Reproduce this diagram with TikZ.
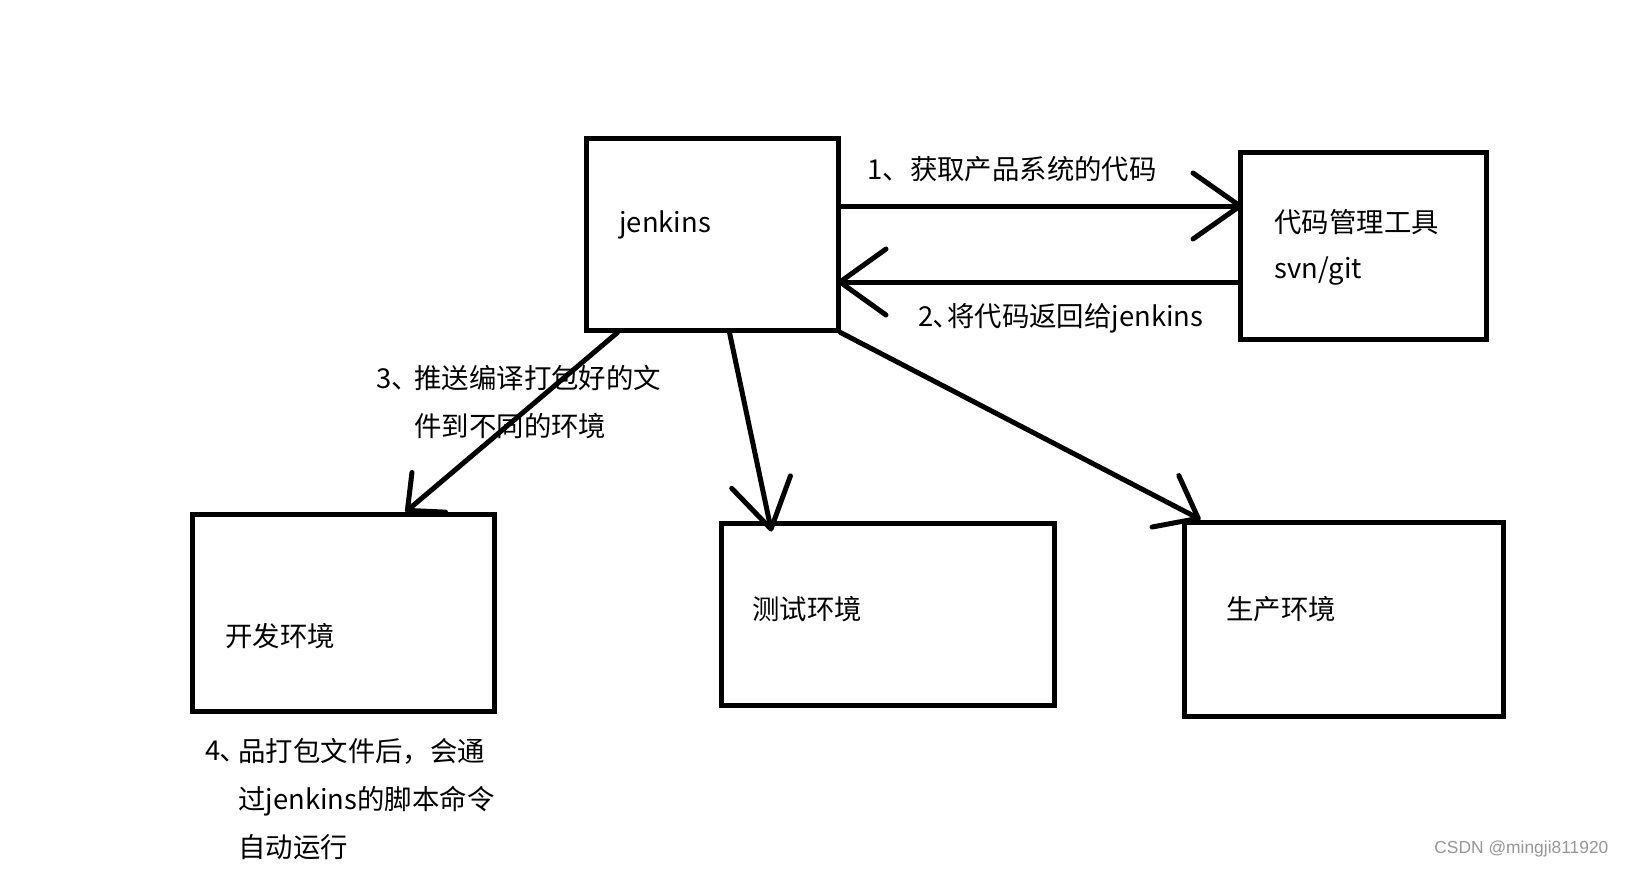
\documentclass[tikz,border=0pt]{standalone}
\usepackage{fontspec}
\setmainfont{Noto Sans CJK SC}
\newfontfamily\wmfont{Liberation Sans}
\usetikzlibrary{arrows.meta}
\definecolor{wmgray}{RGB}{150,150,150}

\begin{document}
\begin{tikzpicture}[
  x=0.5pt, y=-0.5pt,
  font=\fontsize{13.7pt}{24pt}\selectfont,
  box/.style={draw, line width=2.5pt, inner sep=0pt},
  link/.style={line width=2.5pt, line cap=round},
  head/.style 2 args={-{Straight Barb[length=#1, width=#2, round]}},
  lbl/.style={inner sep=0pt, anchor=west, align=left}
]
\useasboundingbox (0,0) rectangle (1626,869);

\node[box, minimum width=126pt, minimum height=96pt] (jenkins) at (712,234) {};
\node[box, minimum width=123pt, minimum height=93.5pt] (code) at (1363,245.5) {};
\node[box, minimum width=151pt, minimum height=98.25pt] (dev) at (343,612.75) {};
\node[box, minimum width=166.5pt, minimum height=91pt] (test) at (887.5,614) {};
\node[box, minimum width=159.5pt, minimum height=97pt] (prod) at (1343.5,619) {};

\node[lbl] (jname) at (619,225) {jenkins};
\node[lbl] (cname) at (1274,222) {代码管理工具};
\node[lbl] (cvcs) at (1274,271) {svn/git};
\node[lbl] (dname) at (225,636) {开发环境};
\node[lbl] (tname) at (752,609) {测试环境};
\node[lbl] (pname) at (1226,609) {生产环境};

\node[lbl] (fetch) at (867,169) {1、获取产品系统的代码};
\node[lbl] (back) at (918,318) {2､将代码返回给jenkins};
\node[lbl] (pushnum) at (376,379) {3、};
\node[lbl] (push) at (414,402.5) {推送编译打包好的文\\件到不同的环境};
\node[lbl] (runnum) at (205,751) {4､};
\node[lbl] (run) at (238,799) {品打包文件后，会通\\过jenkins的脚本命令\\自动运行};

\draw[link, head={23.5pt}{33pt}, shorten >=-2.5pt] ([yshift=14pt]jenkins.east) -- ([yshift=19.75pt]code.west);
\draw[link, head={23pt}{33pt}, shorten >=-1.5pt] ([yshift=-18.25pt]code.west) -- ([yshift=-24pt]jenkins.east);
\draw[link, head={14pt}{26pt}] ([xshift=17pt]jenkins.south west) -- ([xshift=108pt]dev.north west);
\draw[link, head={24pt}{30pt}] ([xshift=73pt]jenkins.south west) -- ([xshift=26.5pt, yshift=-5.5pt]test.north west);
\draw[link, head={18.5pt}{29pt}] (jenkins.south east) -- ([xshift=9.5pt]prod.north west);

\node[lbl, font=\wmfont\fontsize{8.7pt}{10pt}\selectfont, text=wmgray] (mark) at (1434,849) {CSDN @mingji811920};
\end{tikzpicture}
\end{document}
